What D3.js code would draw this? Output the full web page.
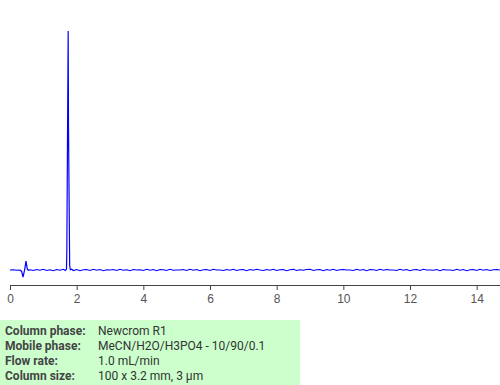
<!DOCTYPE html>
<html>
<head>
<meta charset="utf-8">
<script src="https://cdn.jsdelivr.net/npm/d3@7"></script>
<style>
  body { margin: 0; background: #fff; }
  svg { display: block; font-family: Roboto, "Noto Sans", sans-serif; }
</style>
</head>
<body>
<div id="chart"></div>
<script>
// retention time (min) / detector signal
var times = [0.0, 0.1, 0.2, 0.3, 0.35, 0.39, 0.44, 0.48, 0.52, 0.56,
    0.6, 0.7, 0.8, 0.9, 1.0, 1.1, 1.2, 1.3, 1.4, 1.5, 1.6, 1.66,
    1.695, 1.705, 1.745, 1.755, 1.79, 1.81,
    1.85, 1.9, 2.0, 2.1, 2.2, 2.3, 2.4, 2.5, 2.6, 2.7, 2.8, 2.9,
    3.0, 3.1, 3.2, 3.3, 3.4, 3.5, 3.6, 3.7, 3.8, 3.9,
    4.0, 4.1, 4.2, 4.3, 4.4, 4.5, 4.6, 4.7, 4.8, 4.9,
    5.0, 5.1, 5.2, 5.3, 5.4, 5.5, 5.6, 5.7, 5.8, 5.9,
    6.0, 6.1, 6.2, 6.3, 6.4, 6.5, 6.6, 6.7, 6.8, 6.9,
    7.0, 7.1, 7.2, 7.3, 7.4, 7.5, 7.6, 7.7, 7.8, 7.9,
    8.0, 8.1, 8.2, 8.3, 8.4, 8.5, 8.6, 8.7, 8.8, 8.9,
    9.0, 9.1, 9.2, 9.3, 9.4, 9.5, 9.6, 9.7, 9.8, 9.9,
    10.0, 10.1, 10.2, 10.3, 10.4, 10.5, 10.6, 10.7, 10.8, 10.9,
    11.0, 11.1, 11.2, 11.3, 11.4, 11.5, 11.6, 11.7, 11.8, 11.9,
    12.0, 12.1, 12.2, 12.3, 12.4, 12.5, 12.6, 12.7, 12.8, 12.9,
    13.0, 13.1, 13.2, 13.3, 13.4, 13.5, 13.6, 13.7, 13.8, 13.9,
    14.0, 14.1, 14.2, 14.3, 14.4, 14.5, 14.6, 14.7];
var signal = [0.0, 0.1, -0.1, 0.0, -0.6, -3.0, 0.2, 3.7, 0.3, -0.1,
    0.1, -0.2, 0.2, -0.1, 0.3, -0.2, 0.1, -0.3, 0.2, -0.1, 0.3, -0.2,
    0.4, 8, 100, 60, 2, 0.1,
    0.3, -0.2, 0.2, -0.3, 0.1, 0.2, -0.2, 0.3, -0.1, 0.2, -0.3, 0.1,
    0.0, 0.2, -0.2, 0.3, -0.1, 0.1, -0.3, 0.2, 0.0, 0.1,
    -0.2, 0.3, -0.1, 0.2, -0.3, 0.2, 0.1, -0.2, 0.3, -0.1,
    0.0, 0.0, 0.2, -0.2, 0.3, -0.1, 0.2, -0.3, 0.1, 0.2,
    -0.2, 0.3, 0.0, 0.0, -0.2, 0.2, -0.1, 0.3, -0.2, 0.1,
    0.2, -0.3, 0.2, -0.1, 0.3, 0.0, -0.2, 0.2, -0.1, 0.3,
    -0.2, 0.1, 0.2, -0.3, 0.1, 0.3, -0.2, 0.1, -0.1, 0.2,
    0.3, -0.2, 0.1, 0.2, -0.3, 0.2, -0.1, 0.3, -0.2, 0.1,
    0.2, 0.0, 0.0, -0.2, 0.3, -0.1, 0.2, -0.3, 0.2, 0.1,
    -0.2, 0.3, -0.1, 0.2, 0.0, 0.0, -0.2, 0.3, -0.1, 0.2,
    -0.3, 0.1, 0.2, -0.2, 0.3, 0.0, 0.0, -0.1, 0.2, -0.3,
    0.2, 0.0, 0.0, -0.2, 0.3, -0.1, 0.2, -0.3, 0.1, 0.2,
    -0.2, 0.3, -0.1, 0.2, -0.2, 0.1, 0.2, 0.0];

var xTicks = [0, 2, 4, 6, 8, 10, 12, 14];

var infoLabels = ['Column phase:', 'Mobile phase:', 'Flow rate:', 'Column size:'];
var infoValues = ['Newcrom R1', 'MeCN/H2O/H3PO4 - 10/90/0.1', '1.0 mL/min', '100 x 3.2 mm, 3 \u00b5m'];

var width = 500, height = 385;

var svg = d3.select('#chart').append('svg')
    .attr('width', width)
    .attr('height', height);

var x = d3.scaleLinear().domain([0, 14.7]).range([10, 500]);
var y = d3.scaleLinear().domain([0, 100]).range([270, 31]);

var data = times.map(function (t, i) { return { t: t, v: signal[i] }; });

var line = d3.line()
    .x(function (d) { return x(d.t); })
    .y(function (d) { return y(d.v); });

svg.append('path')
    .datum(data)
    .attr('fill', 'none')
    .attr('stroke', '#0000ff')
    .attr('stroke-width', 1.2)
    .attr('d', line);

var xAxis = svg.append('g')
    .attr('transform', 'translate(0,285)')
    .call(d3.axisBottom(x).tickValues(xTicks).tickSize(5).tickSizeOuter(0)
        .tickFormat(d3.format('d')));
xAxis.select('.domain').attr('stroke', '#444');
xAxis.selectAll('.tick line').attr('stroke', '#444');
xAxis.selectAll('.tick text')
    .attr('fill', '#555')
    .attr('font-size', 12)
    .attr('dy', '0.85em');

// info box
var box = svg.append('g').attr('transform', 'translate(0,320)');
box.append('rect')
    .attr('width', 300)
    .attr('height', 65)
    .attr('fill', '#ccffcc');

box.selectAll('.lbl')
    .data(infoLabels)
    .enter().append('text')
    .attr('class', 'lbl')
    .attr('x', 5)
    .attr('y', function (d, i) { return 15 + i * 15; })
    .attr('font-size', 12)
    .attr('font-weight', 'bold')
    .attr('fill', '#444')
    .text(function (d) { return d; });

box.selectAll('.val')
    .data(infoValues)
    .enter().append('text')
    .attr('class', 'val')
    .attr('x', 98)
    .attr('y', function (d, i) { return 15 + i * 15; })
    .attr('font-size', 12)
    .attr('fill', '#333')
    .text(function (d) { return d; });
</script>
</body>
</html>
